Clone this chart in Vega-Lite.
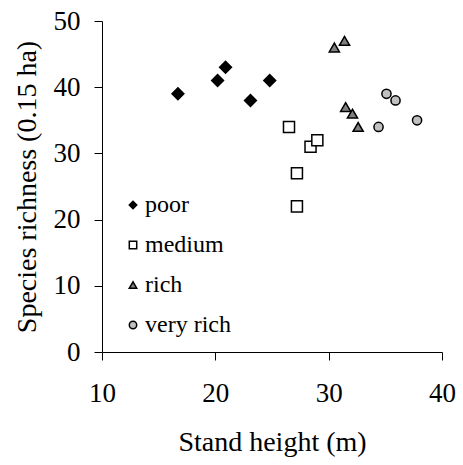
{
  "$schema": "https://vega.github.io/schema/vega-lite/v6.json",
  "autosize": {"type": "none"},
  "padding": {"left": 102, "top": 21, "right": 21, "bottom": 113},
  "width": 340,
  "height": 331,
  "background": "white",
  "config": {
    "view": {"stroke": null},
    "font": "Liberation Serif",
    "axis": {
      "grid": false,
      "domainColor": "black",
      "tickColor": "black",
      "labelColor": "black",
      "titleColor": "black",
      "labelFont": "Liberation Serif",
      "titleFont": "Liberation Serif",
      "labelFontSize": 27,
      "titleFontSize": 28,
      "titleFontWeight": "normal",
      "labelFlush": false,
      "labelOverlap": false,
      "tickSize": 8,
      "domainWidth": 1,
      "tickWidth": 1
    },
    "legend": {
      "labelFont": "Liberation Serif",
      "labelFontSize": 24,
      "labelColor": "black"
    }
  },
  "data": {
    "values": [
      {"height": 16.7, "richness": 39, "class": "poor"},
      {"height": 20.2, "richness": 41, "class": "poor"},
      {"height": 20.9, "richness": 43, "class": "poor"},
      {"height": 23.1, "richness": 38, "class": "poor"},
      {"height": 24.8, "richness": 41, "class": "poor"},
      {"height": 26.5, "richness": 34, "class": "medium"},
      {"height": 27.2, "richness": 27, "class": "medium"},
      {"height": 27.2, "richness": 22, "class": "medium"},
      {"height": 28.4, "richness": 31, "class": "medium"},
      {"height": 29.0, "richness": 32, "class": "medium"},
      {"height": 30.5, "richness": 46, "class": "rich"},
      {"height": 31.4, "richness": 47, "class": "rich"},
      {"height": 31.5, "richness": 37, "class": "rich"},
      {"height": 32.1, "richness": 36, "class": "rich"},
      {"height": 32.6, "richness": 34, "class": "rich"},
      {"height": 35.1, "richness": 39, "class": "very rich"},
      {"height": 35.9, "richness": 38, "class": "very rich"},
      {"height": 34.4, "richness": 34, "class": "very rich"},
      {"height": 37.8, "richness": 35, "class": "very rich"}
    ]
  },
  "encoding": {
    "x": {
      "field": "height", "type": "quantitative",
      "scale": {"domain": [10, 40], "nice": false, "zero": false},
      "axis": {"values": [10, 20, 30, 40], "title": "Stand height (m)", "labelPadding": 20, "titleY": 98, "titleBaseline": "alphabetic"}
    },
    "y": {
      "field": "richness", "type": "quantitative",
      "scale": {"domain": [0, 50], "nice": false},
      "axis": {"values": [0, 10, 20, 30, 40, 50], "title": "Species richness (0.15 ha)", "labelPadding": 14, "titleX": -67, "titleBaseline": "alphabetic"}
    }
  },
  "layer": [
    {
      "mark": {"type": "point", "filled": true, "stroke": "black", "strokeWidth": 1.5, "opacity": 1, "size": 55},
      "encoding": {
        "shape": {
          "field": "class", "type": "nominal",
          "scale": {"domain": ["poor", "medium", "rich", "very rich"], "range": ["diamond", "square", "triangle-up", "circle"]},
          "legend": {"title": null, "orient": "none", "legendX": 19, "legendY": 172, "padding": 0, "symbolSize": 55, "labelOffset": 0, "rowPadding": 16, "labelFont": "Liberation Serif", "labelFontSize": 24,
            "encode": {"symbols": {"update": {"stroke": {"value": "black"}, "strokeWidth": {"value": 1.5}}}, "labels": {"update": {"font": {"value": "Liberation Serif"}}}}}
        },
        "fill": {
          "field": "class", "type": "nominal",
          "scale": {"domain": ["poor", "medium", "rich", "very rich"], "range": ["black", "white", "#808080", "#c0c0c0"]},
          "legend": {"title": null, "orient": "none", "legendX": 19, "legendY": 172, "padding": 0, "symbolSize": 55, "labelOffset": 0, "rowPadding": 16, "labelFont": "Liberation Serif", "labelFontSize": 24,
            "encode": {"symbols": {"update": {"stroke": {"value": "black"}, "strokeWidth": {"value": 1.5}}}, "labels": {"update": {"font": {"value": "Liberation Serif"}}}}}
        }
      }
    },
    {
      "mark": {"type": "point", "filled": true, "stroke": "black", "strokeWidth": 1.5, "opacity": 1},
      "encoding": {
        "shape": {"field": "class", "type": "nominal", "legend": null},
        "fill": {"field": "class", "type": "nominal", "legend": null},
        "size": {
          "field": "class", "type": "nominal",
          "scale": {"domain": ["poor", "medium", "rich", "very rich"], "range": [140, 85, 130, 90]},
          "legend": null
        }
      }
    }
  ],
  "resolve": {"legend": {"shape": "independent", "fill": "independent", "size": "independent"}}
}
